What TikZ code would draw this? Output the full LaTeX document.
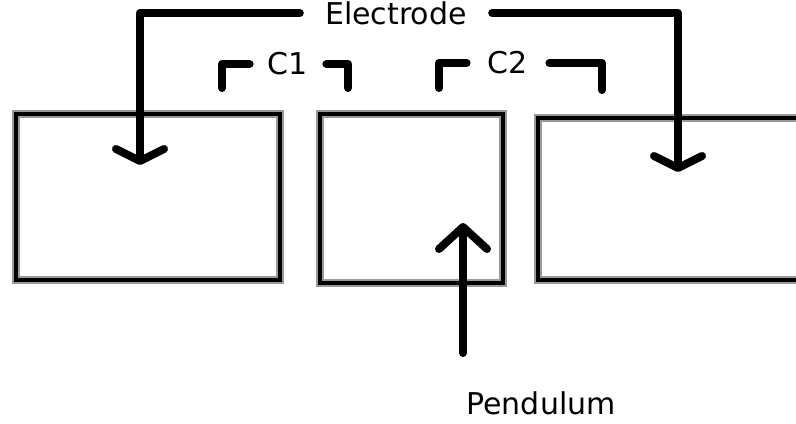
\documentclass[tikz,border=0pt]{standalone}
\usepackage{fontspec}
\setmainfont{DejaVu Sans}
\usetikzlibrary{arrows.meta, positioning}

\begin{document}
\begin{tikzpicture}[
    x=0.5pt, y=-0.5pt,
    plate/.style={rectangle, draw=black, line width=2.2pt, inner sep=0pt, preaction={draw=black!40, line width=3.6pt}},
    lbl/.style={font=\fontsize{15pt}{18pt}\selectfont, text=black, inner ysep=0pt},
    wire/.style={line width=4pt, line cap=round, line join=round},
    elarr/.style={wire, -{Straight Barb[length=6pt, width=24pt, round]}},
    pendarr/.style={wire, -{Straight Barb[length=11pt, width=24pt, round]}}
  ]
  \useasboundingbox (0,0) rectangle (796,423);
  \clip (0,0) rectangle (796,423);

  \node[plate, minimum width=132pt, minimum height=83pt] (leftplate) at (148,197) {};
  \node[plate, minimum width=91.5pt, minimum height=84.5pt] (pendplate) at (411.5,198.5) {};
  \node[plate, minimum width=141pt, minimum height=81pt] (rightplate) at (679,199) {};

  \node[lbl, inner xsep=12.5pt] (electrode) at (396,13) {Electrode};
  \node[lbl, inner xsep=9pt] (c1) at (288,64) {C1};
  \node[lbl, inner xsep=10.5pt] (c2) at (508,63) {C2};
  \node[lbl] (pendulum) at (541,403) {Pendulum};

  \coordinate (lefttip) at (140,165);
  \coordinate (righttip) at (678,172);
  \coordinate (c1a) at (222,88);
  \coordinate (c1b) at (348,88);
  \coordinate (c2a) at (439,88);
  \coordinate (c2b) at (602,90);
  \coordinate (pendtail) at (463,353);
  \coordinate (pendtip) at (463,223);

  \draw[elarr] (electrode.west) -| (lefttip);
  \draw[elarr] (electrode.east) -| (righttip);
  \draw[wire] (c1.west) -| (c1a);
  \draw[wire] (c1.east) -| (c1b);
  \draw[wire] (c2.west) -| (c2a);
  \draw[wire] (c2.east) -| (c2b);
  \draw[pendarr] (pendtail) -- (pendtip);
\end{tikzpicture}
\end{document}
